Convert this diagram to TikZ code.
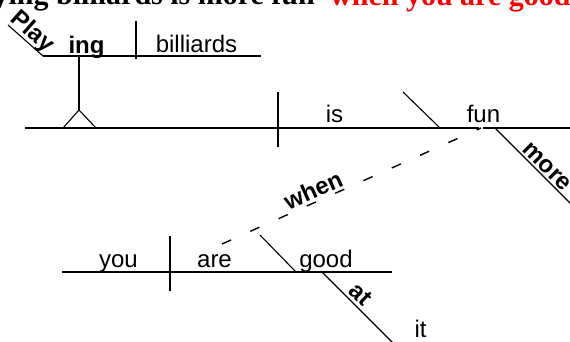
\documentclass[tikz,border=0pt]{standalone}
\usepackage{fontspec}
\setmainfont{Liberation Serif}
\newfontfamily\arialfont{Liberation Sans}
\begin{document}
\begin{tikzpicture}[x=1pt,y=-1pt,
  word/.style={font=\arialfont\fontsize{24}{24}\selectfont, inner sep=0pt, anchor=base},
  bword/.style={word, font=\arialfont\bfseries\fontsize{24}{24}\selectfont},
  title/.style={font=\bfseries\fontsize{30}{30}\selectfont, inner sep=0pt},
  baseline/.style={line width=1.6pt},
  slant/.style={line width=1.1pt},
  dline/.style={line width=1.4pt, dash pattern=on 10pt off 21pt}
]
\useasboundingbox (0,0) rectangle (570,341);
\clip (0,0) rectangle (570,341);
\fill[white] (0,0) rectangle (570,341);

% title sentence (cut off at top)
\node[title, anchor=base east] (sent) at (315,4) {Playing billiards is more fun};
\node[title, anchor=base west, text=red] (sentred) at (330,5) {when you are good at it.};

% coordinates
\coordinate (mainL) at (25,128);
\coordinate (mainG1) at (479,128);
\coordinate (mainG2) at (483,128);
\coordinate (mainR) at (570,128);
\coordinate (divT) at (278,92);
\coordinate (divB) at (278,147);
\coordinate (compT) at (403,92);
\coordinate (compB) at (440,128);
\coordinate (moreT) at (495,128);
\coordinate (moreB) at (585,218);
\coordinate (topL) at (43,56);
\coordinate (topR) at (261,56);
\coordinate (topDivT) at (136,21);
\coordinate (topDivB) at (136,59);
\coordinate (playT) at (8,25);
\coordinate (stemT) at (79,56);
\coordinate (stemB) at (79,110);
\coordinate (legL) at (63,128);
\coordinate (legR) at (96,128);
\coordinate (subL) at (62,272);
\coordinate (subR) at (392,272);
\coordinate (subDivT) at (170,236);
\coordinate (subDivB) at (170,291);
\coordinate (subCompT) at (260,235);
\coordinate (subCompB) at (296,272);
\coordinate (atT) at (322,272);
\coordinate (atB) at (402,352);
\coordinate (whenA) at (222,244);
\coordinate (whenB) at (481,128);

% main clause
\draw[baseline] (mainL) -- (mainG1);
\draw[baseline] (mainG2) -- (mainR);
\draw[baseline] (divT) -- (divB);
\draw[slant] (compT) -- (compB);
\draw[slant] (moreT) -- (moreB);

% gerund phrase on pedestal
\draw[baseline] (topL) -- (topR);
\draw[baseline] (topDivT) -- (topDivB);
\draw[slant] (playT) -- (topL);
\draw[baseline] (stemT) -- (stemB);
\draw[slant] (legL) -- (stemB) -- (legR);

% subordinate clause
\draw[baseline] (subL) -- (subR);
\draw[baseline] (subDivT) -- (subDivB);
\draw[slant] (subCompT) -- (subCompB);
\draw[slant] (atT) -- (atB);
\draw[dline] (whenA) -- (whenB);

% words
\node[bword] (ing) at (86.5,53) {ing};
\node[word] (billiards) at (196.5,52.5) {billiards};
\node[word] (is) at (334.5,122) {is};
\node[word] (fun) at (483.5,122) {fun};
\node[word] (you) at (118.5,267) {you};
\node[word] (are) at (214.5,267) {are};
\node[word] (good) at (326,267) {good};
\node[word] (it) at (420.5,337) {it};

\node[bword, rotate=-41.5] (play) at (27.8,37.1) {Play};
\node[bword, rotate=-45] (more) at (542.6,171.4) {more};
\node[bword, rotate=-44] (at) at (355.3,299.8) {at};
\node[bword, rotate=24.1] (when) at (316.5,197.8) {when};
\end{tikzpicture}
\end{document}
